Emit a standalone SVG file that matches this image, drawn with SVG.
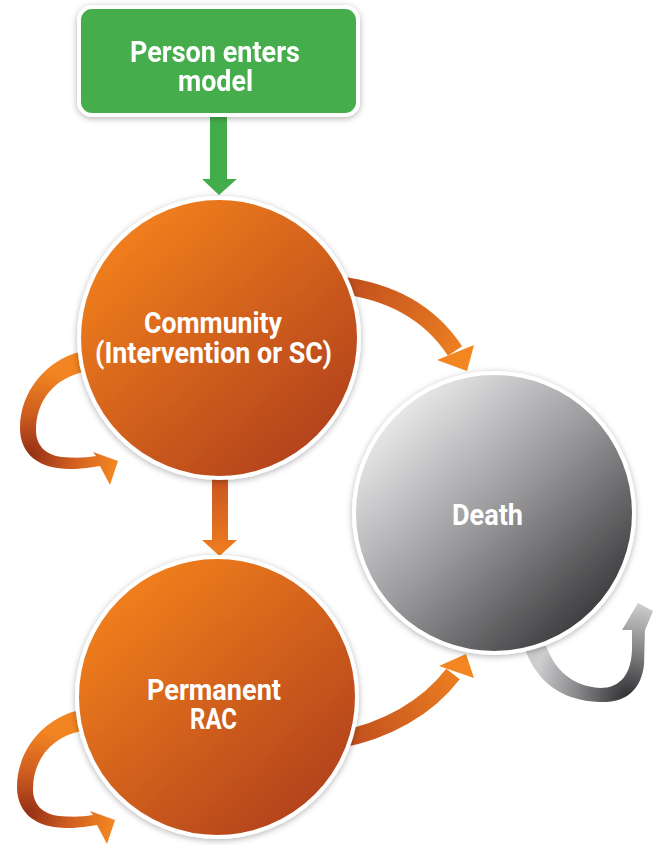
<svg xmlns="http://www.w3.org/2000/svg" width="659" height="845" viewBox="0 0 659 845">
  <defs>
    <style>
      .label { font-family: "Roboto", "Liberation Sans", sans-serif; font-weight: bold; font-size: 30px; fill: #ffffff; text-anchor: middle; }
      .node-ring { stroke: #ffffff; stroke-width: 4; }
    </style>
    <filter id="soft-shadow" x="-20%" y="-20%" width="140%" height="140%">
      <feDropShadow dx="0" dy="1.5" stdDeviation="3" flood-color="#000000" flood-opacity="0.3"/>
    </filter>
    <linearGradient id="orange-fill" x1="0.15" y1="0.1" x2="0.85" y2="0.9">
      <stop offset="0" stop-color="#f2801f"/>
      <stop offset="1" stop-color="#b2421d"/>
    </linearGradient>
    <linearGradient id="grey-fill" x1="0.12" y1="0.1" x2="0.88" y2="0.9">
      <stop offset="0" stop-color="#f0f0f1"/>
      <stop offset="0.5" stop-color="#98989b"/>
      <stop offset="1" stop-color="#353537"/>
    </linearGradient>
    <linearGradient id="orange-down" x1="0" y1="0" x2="0" y2="1">
      <stop offset="0" stop-color="#c4511e"/>
      <stop offset="1" stop-color="#f07f21"/>
    </linearGradient>
    <linearGradient id="flow-upper" gradientUnits="userSpaceOnUse" x1="350" y1="285" x2="470" y2="370">
      <stop offset="0" stop-color="#c2501e"/>
      <stop offset="1" stop-color="#f38621"/>
    </linearGradient>
    <linearGradient id="flow-lower" gradientUnits="userSpaceOnUse" x1="350" y1="738" x2="470" y2="655">
      <stop offset="0" stop-color="#c2501e"/>
      <stop offset="1" stop-color="#f38621"/>
    </linearGradient>
    <radialGradient id="loop-orange" gradientUnits="userSpaceOnUse" cx="30" cy="455" r="85">
      <stop offset="0" stop-color="#942f16"/>
      <stop offset="0.5" stop-color="#cf5e1f"/>
      <stop offset="1" stop-color="#f28522"/>
    </radialGradient>
    <radialGradient id="loop-grey" gradientUnits="userSpaceOnUse" cx="628" cy="698" r="95">
      <stop offset="0" stop-color="#2e2e30"/>
      <stop offset="0.55" stop-color="#8a8a8c"/>
      <stop offset="1" stop-color="#cdcdcf"/>
    </radialGradient>
    <!-- self-transition ribbon shared by the two orange states -->
    <path id="stay-loop" d="M79,352 C48,360 20,390 20,428 C20,455 40,469 70,469 C82,469 92,467 100,466 L110,485 L118,461 L93,452 L96,456 C85,458 75,458 62,457 C45,455 36,445 36,430 C36,400 55,378 84,372 Z"/>
  </defs>

  <rect width="659" height="845" fill="#ffffff"/>

  <!-- transitions between states -->
  <g id="connectors">
    <!-- entry into the community state -->
    <polygon points="210,117 227,117 227,179 237,179 219,195 202,179 210,179" fill="#44ad4b"/>
    <!-- community to permanent care -->
    <polygon points="212,470 228,470 228,540 237,540 219.5,556 202,540 212,540" fill="url(#orange-down)"/>
    <!-- community to death -->
    <path d="M338,285 C392,291 430,313 455,351" fill="none" stroke="url(#flow-upper)" stroke-width="17"/>
    <polygon points="437,360 474,345 467,371" fill="#f38621"/>
    <!-- permanent care to death -->
    <path d="M338,740 C386,731 427,708 453,674" fill="none" stroke="url(#flow-lower)" stroke-width="17"/>
    <polygon points="439,666 474,678 466,654" fill="#f38621"/>
    <!-- remain in community -->
    <use href="#stay-loop" fill="url(#loop-orange)"/>
    <!-- remain in permanent care -->
    <g transform="translate(-3,359)">
      <use href="#stay-loop" fill="url(#loop-orange)"/>
    </g>
    <!-- absorbing state loop -->
    <path d="M524,646 C535,680 560,701 600,702 C626,703 641,690 644,665 L645,630 L653,611 L638,603 L622,630 L632,630 L632,650 C631,675 620,688 600,688 C572,686 555,670 546,646 Z" fill="url(#loop-grey)"/>
  </g>

  <g id="node-entry" filter="url(#soft-shadow)">
    <rect x="79" y="7" width="279" height="108" rx="13" fill="#44ad4b" class="node-ring"/>
    <text class="label" x="215" y="62" textLength="170" lengthAdjust="spacingAndGlyphs">Person enters</text>
    <text class="label" x="215.5" y="91" textLength="75" lengthAdjust="spacingAndGlyphs">model</text>
  </g>

  <g id="node-community">
    <circle cx="219" cy="338" r="140" fill="url(#orange-fill)" class="node-ring" filter="url(#soft-shadow)"/>
    <text class="label" x="213" y="333" textLength="138" lengthAdjust="spacingAndGlyphs">Community</text>
    <text class="label" x="213.5" y="363" textLength="237" lengthAdjust="spacingAndGlyphs">(Intervention or SC)</text>
  </g>

  <g id="node-rac">
    <circle cx="217" cy="697" r="140" fill="url(#orange-fill)" class="node-ring" filter="url(#soft-shadow)"/>
    <text class="label" x="214" y="700" textLength="134" lengthAdjust="spacingAndGlyphs">Permanent</text>
    <text class="label" x="213.5" y="729" textLength="47" lengthAdjust="spacingAndGlyphs">RAC</text>
  </g>

  <g id="node-death">
    <circle cx="494" cy="513" r="140" fill="url(#grey-fill)" class="node-ring" filter="url(#soft-shadow)"/>
    <text class="label" x="487.5" y="525" textLength="71" lengthAdjust="spacingAndGlyphs">Death</text>
  </g>
</svg>
